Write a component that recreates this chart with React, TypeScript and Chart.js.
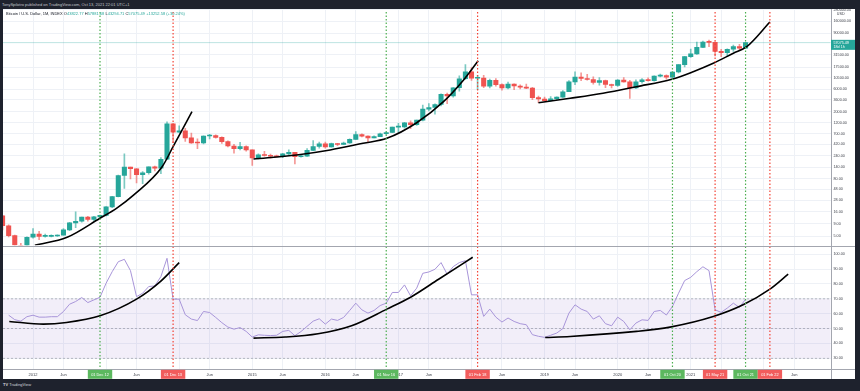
import React, { useEffect, useRef } from 'react';
import { Chart, registerables } from 'chart.js';

Chart.register(...registerables);

// Month index counted from Jan 2012 (= 0). First candle: Aug 2011.
const FIRST_MONTH = -5;
const FIRST_OPEN = 13.3;

const closes = [
  8.2, 5.1, 3.2, 3.0, 4.7,
  5.5, 4.9, 4.9, 5.0, 5.2, 6.7, 9.4, 10.2, 12.4, 11.2, 12.6, 13.5,
  20.4, 33.4, 93, 139, 129, 97, 106, 141, 133, 204, 1130, 754,
  803, 573, 450, 447, 628, 640, 587, 478, 387, 338, 378, 320,
  217, 254, 244, 236, 230, 264, 284, 230, 236, 314, 377, 430,
  368, 437, 416, 448, 531, 673, 624, 573, 609, 698, 742, 963,
  970, 1190, 1080, 1350, 2300, 2480, 2875, 4700, 4340, 6450, 9950, 13850,
  10200, 10300, 6930, 9240, 7500, 6390, 7730, 7030, 6630, 6320, 4020, 3740,
  3460, 3790, 4100, 5330, 8560, 10820, 10080, 9600, 8300, 9150, 7550, 7190,
  9350, 8550, 6410, 8630, 9450, 9140, 11350, 11650, 10780, 13800, 19700, 28990,
  33100, 45240, 58800, 57720, 37300, 35040, 41460, 47100, 43822.77, 57075.49,
];

const highs = [
  13.5, 8.6, 5.2, 3.5, 4.8,
  7.2, 6.3, 5.5, 5.3, 5.3, 7.2, 9.7, 16, 12.5, 12.9, 13, 13.8,
  20.7, 34, 95, 266, 140, 130, 112, 141, 146, 220, 1242, 1163,
  1020, 910, 720, 550, 630, 680, 660, 600, 495, 420, 460, 390,
  320, 265, 300, 262, 248, 270, 320, 285, 260, 340, 500, 470,
  465, 445, 440, 470, 550, 780, 700, 630, 630, 720, 755, 970,
  1160, 1210, 1300, 1350, 2800, 3020, 2950, 4800, 5000, 6470, 11500, 19700,
  17200, 11800, 11700, 9800, 10000, 7780, 8500, 7770, 7400, 7680, 6560, 4310,
  4120, 4200, 4150, 5650, 9100, 13900, 13200, 12300, 10930, 10500, 9400, 7750,
  9600, 10500, 9200, 9460, 10070, 10400, 11450, 12480, 12070, 14100, 19880, 29300,
  42000, 58350, 61800, 64900, 59600, 41300, 42400, 50500, 52900, 57881.68,
];

const lows = [
  6.7, 4.8, 2.2, 2.0, 2.8,
  4.5, 4.2, 4.7, 4.8, 4.9, 5.2, 6.5, 7.5, 9.8, 10.2, 10.4, 12.2,
  13.2, 19.6, 33, 50, 79, 65, 63, 99, 116, 101, 200, 456,
  750, 480, 440, 340, 430, 545, 565, 440, 370, 275, 320, 300,
  152, 207, 236, 214, 228, 220, 255, 162, 225, 235, 310, 350,
  350, 365, 395, 414, 440, 530, 600, 470, 570, 605, 680, 735,
  750, 910, 890, 1050, 1300, 2100, 1810, 2670, 2980, 4100, 5500, 9600,
  9200, 5900, 6500, 6430, 7000, 5750, 6070, 5880, 6100, 6200, 3650, 3120,
  3350, 3380, 3670, 4050, 5330, 7500, 9050, 9350, 7700, 7300, 6500, 6430,
  6850, 8450, 3850, 6150, 8100, 8900, 8900, 10950, 9800, 10400, 13200, 17570,
  28100, 32300, 45000, 47000, 30000, 28800, 29300, 37300, 39600, 43294.71,
];

const rsiValues = [
  null, 59, 56, 55, 58,
  59, 57.7, 57.7, 58, 58, 61.5, 66.4, 68.2, 70.9, 67.5, 69.3, 71.1,
  80.5, 88.3, 95, 96.6, 89, 71.5, 73.8, 78.3, 78.7, 85, 97.3, 69.8,
  69.8, 59.3, 56.4, 55.4, 61.5, 60.8, 57.5, 54, 51, 49.6, 50.7, 48.1,
  44.3, 45.8, 45.5, 45.3, 45.5, 48.1, 48.8, 45.2, 48, 51.5, 55, 56.6,
  53, 56.4, 55.5, 57.5, 62.2, 67.1, 62.6, 60.4, 62.2, 65.5, 67.1, 74.3,
  74.3, 79.4, 72, 77.2, 87.2, 88.1, 89.9, 94.4, 86.6, 91.7, 94.4, 95.7,
  72.7, 72.7, 58.2, 63.1, 57.7, 54.4, 57.1, 54.8, 53.3, 52.6, 45.9, 44.8,
  44.1, 45.5, 47, 50, 60.4, 66, 63.1, 61.5, 56.4, 58.6, 53.3, 51.9,
  57.7, 54.8, 49.2, 53.7, 55.9, 55.5, 61.5, 62.2, 59.1, 64.9, 73.8, 82.3,
  84.5, 88.3, 91.6, 89, 62.6, 60.9, 63.8, 67.1, 64.2, 69.8,
];

// Hand-drawn arcs: [month, value]
const priceArc1 = [[0.3, 3.2], [5.6, 4.7], [11, 11.8], [13.7, 19], [16.5, 36], [21.2, 142], [23, 374], [26.1, 2030]];
const priceArc2 = [[36.2, 207], [43.3, 251], [48.8, 319], [54.2, 441], [58.1, 561], [63, 1192], [67.4, 3290], [70.7, 9390], [73.1, 23850]];
const priceArc3 = [[83, 3137], [88.2, 3879], [93.6, 4940], [99.1, 6795], [104.9, 9720], [108.4, 14020], [111.7, 21040], [115, 34110], [117.2, 46900], [121, 154700]];
const rsiArc1 = [[-3.9, 54.8], [1.7, 53], [5.5, 54.1], [11, 58.6], [17, 69.8], [20.9, 81.6], [24, 94.4]];
const rsiArc2 = [[36.2, 43.6], [41.4, 44.3], [46.8, 46.5], [52.3, 51.9], [58.1, 63.1], [62, 71.1], [66.6, 83.2], [72.2, 98]];
const rsiArc3 = [[84.1, 44], [88.2, 44.7], [99.1, 48.1], [104.6, 51], [111.7, 58.1], [116.6, 66], [121, 76.5], [124, 86.6]];

const priceTicks = [5, 9, 16, 28, 48, 80, 140, 240, 420, 700, 1200, 2000, 3600, 6000, 10500, 17500, 31500, 90000, 160000, 280000];
const rsiTicks = [30, 40, 50, 60, 70, 80, 90, 100];
const rsiBandLines = [70, 50, 30];
const RSI_UPPER = 70;
const RSI_LOWER = 30;

const timeTickMonths = [0, 5, 12, 17, 24, 29, 36, 41, 48, 53, 60, 65, 72, 77, 84, 89, 96, 101, 108, 113, 120, 125];
const timeTickLabels = ['2012', 'Jun', '2013', 'Jun', '2014', 'Jun', '2015', 'Jun', '2016', 'Jun', '2017', 'Jun', '2018', 'Jun', '2019', 'Jun', '2020', 'Jun', '2021', 'Jun', '2022', 'Jun'];

const eventMonths = [11, 23, 58, 73, 105, 112, 117, 121];
const eventLabels = ['01 Dec 12', '01 Dec 13', '01 Nov 16', '01 Feb 18', '01 Oct 20', '01 May 21', '01 Oct 21', '01 Feb 22'];
const eventKinds = ['up', 'down', 'up', 'down', 'up', 'down', 'up', 'down'];

const LAST_CLOSE = 57075.49;
const LAST_TAG_SUB = '18d 1h';

const DARK = '#1e222d';
const UP = '#26a69a';
const DOWN = '#ef5350';
const GRID = '#eef1f6';
const LABEL = '#3d404a';
const LINE = '#a3a6af';
const FONT = '"Liberation Sans", Arial, sans-serif';

const W = 852;
const H = 370;

const opens = closes.map((_, i) => (i === 0 ? FIRST_OPEN : closes[i - 1]));
const months = closes.map((_, i) => FIRST_MONTH + i);
const isUp = closes.map((c, i) => c >= opens[i]);

const arcDataset = (pts: number[][], axis: string) => ({
  type: 'line' as const,
  data: pts.map(([x, y]) => ({ x, y })),
  yAxisID: axis,
  borderColor: '#000',
  borderWidth: 1.6,
  pointRadius: 0,
  cubicInterpolationMode: 'monotone' as const,
  order: 0,
});

const overlay = {
  id: 'overlay',
  beforeDatasetDraw(chart: any, args: any) {
    const ys = chart.scales[args.meta.yAxisID];
    const ca = chart.chartArea;
    const ctx = chart.ctx;
    ctx.save();
    ctx.beginPath();
    ctx.rect(ca.left, ys.top, ca.right - ca.left, ys.bottom - ys.top);
    ctx.clip();
  },
  afterDatasetDraw(chart: any) {
    chart.ctx.restore();
  },
  beforeDatasetsDraw(chart: any) {
    const { ctx, chartArea: ca } = chart;
    const yr = chart.scales.yr;
    const y = chart.scales.y;
    ctx.save();
    const t = yr.getPixelForValue(RSI_UPPER);
    const b = yr.getPixelForValue(RSI_LOWER);
    ctx.fillStyle = 'rgba(126,87,194,0.1)';
    ctx.fillRect(ca.left, t, ca.right - ca.left, b - t);
    ctx.strokeStyle = 'rgba(120,123,134,0.6)';
    ctx.lineWidth = 0.8;
    ctx.setLineDash([2, 2]);
    for (const v of rsiBandLines) {
      const p = yr.getPixelForValue(v);
      ctx.beginPath();
      ctx.moveTo(ca.left, p);
      ctx.lineTo(ca.right, p);
      ctx.stroke();
    }
    ctx.setLineDash([]);
    const pp = y.getPixelForValue(LAST_CLOSE);
    ctx.strokeStyle = 'rgba(38,166,154,0.3)';
    ctx.lineWidth = 1;
    ctx.beginPath();
    ctx.moveTo(ca.left, pp);
    ctx.lineTo(ca.right, pp);
    ctx.stroke();
    ctx.restore();
  },
  afterDatasetsDraw(chart: any) {
    const { ctx, chartArea: ca } = chart;
    const x = chart.scales.x;
    ctx.save();
    ctx.lineWidth = 1.2;
    ctx.setLineDash([1.5, 2]);
    eventMonths.forEach((m, i) => {
      const px = x.getPixelForValue(m);
      ctx.strokeStyle = eventKinds[i] === 'up' ? '#4caf50' : '#f44336';
      ctx.beginPath();
      ctx.moveTo(px, ca.top + 3);
      ctx.lineTo(px, ca.bottom);
      ctx.stroke();
    });
    ctx.restore();
  },
  afterDraw(chart: any) {
    const { ctx, chartArea: ca } = chart;
    const x = chart.scales.x;
    const y = chart.scales.y;
    const yr = chart.scales.yr;
    ctx.save();
    // pane separators and axis borders
    ctx.strokeStyle = LINE;
    ctx.lineWidth = 1;
    ctx.beginPath();
    ctx.moveTo(ca.left, Math.round(yr.top) + 0.5);
    ctx.lineTo(chart.width, Math.round(yr.top) + 0.5);
    ctx.moveTo(ca.left, Math.round(ca.bottom) + 0.5);
    ctx.lineTo(chart.width, Math.round(ca.bottom) + 0.5);
    ctx.moveTo(Math.round(ca.right) + 0.5, 0);
    ctx.lineTo(Math.round(ca.right) + 0.5, chart.height);
    ctx.stroke();
    // event boxes on the time axis
    ctx.font = `3.9px ${FONT}`;
    ctx.textAlign = 'center';
    ctx.textBaseline = 'middle';
    eventMonths.forEach((m, i) => {
      const px = x.getPixelForValue(m);
      ctx.fillStyle = eventKinds[i] === 'up' ? '#5cb85f' : '#f25c5c';
      ctx.fillRect(px - 12.2, ca.bottom + 0.5, 24.4, 9);
      ctx.fillStyle = '#ffffff';
      ctx.fillText(eventLabels[i], px, ca.bottom + 5.2);
    });
    // last price tag
    const pp = y.getPixelForValue(LAST_CLOSE);
    ctx.fillStyle = UP;
    ctx.fillRect(ca.right + 0.5, pp - 2.8, chart.width - ca.right, 10);
    ctx.fillStyle = '#ffffff';
    ctx.textAlign = 'left';
    ctx.font = `3.7px ${FONT}`;
    ctx.fillText(LAST_CLOSE.toFixed(2), ca.right + 3, pp + 0.2);
    ctx.fillText(LAST_TAG_SUB, ca.right + 3, pp + 4.6);
    // currency label
    ctx.fillStyle = LABEL;
    ctx.textAlign = 'center';
    ctx.fillText('USD', (ca.right + chart.width) / 2 - 2, 5.3);
    ctx.restore();
  },
};

export default function App() {
  const ref = useRef<HTMLCanvasElement>(null);
  useEffect(() => {
    Chart.defaults.font.family = FONT;
    const bodies = months.map((m, i) => ({ x: m, y: [opens[i], closes[i]] }));
    const wicks = months.map((m, i) => ({ x: m, y: [lows[i], highs[i]] }));
    const rsiPts = months
      .map((m, i) => ({ x: m, y: rsiValues[i] }))
      .filter((p) => p.y !== null);
    const chart = new Chart(ref.current as HTMLCanvasElement, {
      type: 'bar',
      data: {
        datasets: [
          {
            type: 'bar',
            data: wicks as any,
            yAxisID: 'y',
            backgroundColor: isUp.map((u) => (u ? 'rgba(38,166,154,0.6)' : 'rgba(239,83,80,0.6)')),
            barThickness: 1,
            grouped: false,
            order: 3,
          },
          {
            type: 'bar',
            data: bodies as any,
            yAxisID: 'y',
            backgroundColor: isUp.map((u) => (u ? UP : DOWN)),
            barThickness: 4.4,
            minBarLength: 1,
            grouped: false,
            order: 2,
          },
          {
            type: 'line',
            data: rsiPts as any,
            yAxisID: 'yr',
            borderColor: '#a895d9',
            borderWidth: 1,
            pointRadius: 0,
            tension: 0,
            order: 1,
          },
          arcDataset(priceArc1, 'y'),
          arcDataset(priceArc2, 'y'),
          arcDataset(priceArc3, 'y'),
          arcDataset(rsiArc1, 'yr'),
          arcDataset(rsiArc2, 'yr'),
          arcDataset(rsiArc3, 'yr'),
        ] as any,
      },
      options: {
        responsive: false,
        animation: false,
        devicePixelRatio: 1,
        events: [],
        layout: { padding: 0 },
        plugins: { legend: { display: false }, tooltip: { enabled: false }, title: { display: false } },
        scales: {
          x: {
            type: 'linear',
            position: 'bottom',
            min: -4.93,
            max: 130.95,
            offset: false,
            bounds: 'data',
            grid: { color: GRID, drawTicks: false, offset: false },
            border: { display: false },
            ticks: {
              autoSkip: false,
              maxRotation: 0,
              padding: 3,
              color: LABEL,
              font: { size: 4 },
              callback: (_v: any, i: number) => timeTickLabels[i],
            },
            afterBuildTicks: (s: any) => {
              s.ticks = timeTickMonths.map((v) => ({ value: v }));
            },
            afterFit: (s: any) => {
              s.height = 9.7;
              s.paddingLeft = 0;
              s.paddingRight = 0;
            },
          },
          y: {
            type: 'logarithmic',
            position: 'right',
            stack: 'panes',
            stackWeight: 236.5,
            min: 3.16,
            max: 289900,
            bounds: 'data',
            grid: { color: GRID, drawTicks: false },
            border: { display: false },
            ticks: {
              autoSkip: false,
              padding: 3,
              color: LABEL,
              font: { size: 3.7 },
              callback: (v: any) => Number(v).toFixed(2),
            },
            afterBuildTicks: (s: any) => {
              s.ticks = priceTicks.map((v) => ({ value: v }));
            },
            afterFit: (s: any) => {
              s.width = 24.5;
              s.paddingTop = 0;
              s.paddingBottom = 0;
            },
          },
          yr: {
            type: 'linear',
            position: 'right',
            stack: 'panes',
            stackWeight: 123.8,
            min: 22.6,
            max: 105.9,
            bounds: 'data',
            grid: { color: GRID, drawTicks: false },
            border: { display: false },
            ticks: {
              autoSkip: false,
              padding: 3,
              color: LABEL,
              font: { size: 3.7 },
              callback: (v: any) => Number(v).toFixed(2),
            },
            afterBuildTicks: (s: any) => {
              s.ticks = rsiTicks.map((v) => ({ value: v }));
            },
            afterFit: (s: any) => {
              s.width = 24.5;
              s.paddingTop = 0;
              s.paddingBottom = 0;
            },
          },
        },
      } as any,
      plugins: [overlay],
    });
    return () => chart.destroy();
  }, []);

  const legendVal = { color: UP };
  return (
    <div style={{ position: 'fixed', left: 0, top: 0, width: 860, height: 391, background: DARK, overflow: 'hidden', fontFamily: FONT }}>
      <div style={{ position: 'absolute', left: 2, top: 3, fontSize: 4, lineHeight: '4px', color: '#c3c6ce', whiteSpace: 'nowrap' }}>
        TonySpilotro published on TradingView.com, Oct 13, 2021 22:01 UTC+1
      </div>
      <div style={{ position: 'absolute', left: 3, top: 9, width: W, height: H, background: '#ffffff' }}>
        <canvas ref={ref} width={W} height={H} style={{ display: 'block', width: W, height: H }} />
        <div style={{ position: 'absolute', left: 3, top: 3.3, fontSize: 4, lineHeight: '4px', color: '#131722', whiteSpace: 'nowrap' }}>
          Bitcoin / U.S. Dollar, 1M, INDEX{'  '}
          <span>O</span><span style={legendVal}>43822.77 </span>
          <span>H</span><span style={legendVal}>57881.68 </span>
          <span>L</span><span style={legendVal}>43294.71 </span>
          <span>C</span><span style={legendVal}>57075.49 +13252.58 (+30.24%)</span>
        </div>
      </div>
      <div style={{ position: 'absolute', left: 3, top: 383, fontSize: 4, lineHeight: '4px', color: '#d1d4dc', whiteSpace: 'nowrap' }}>
        <b>TV</b> TradingView
      </div>
    </div>
  );
}
